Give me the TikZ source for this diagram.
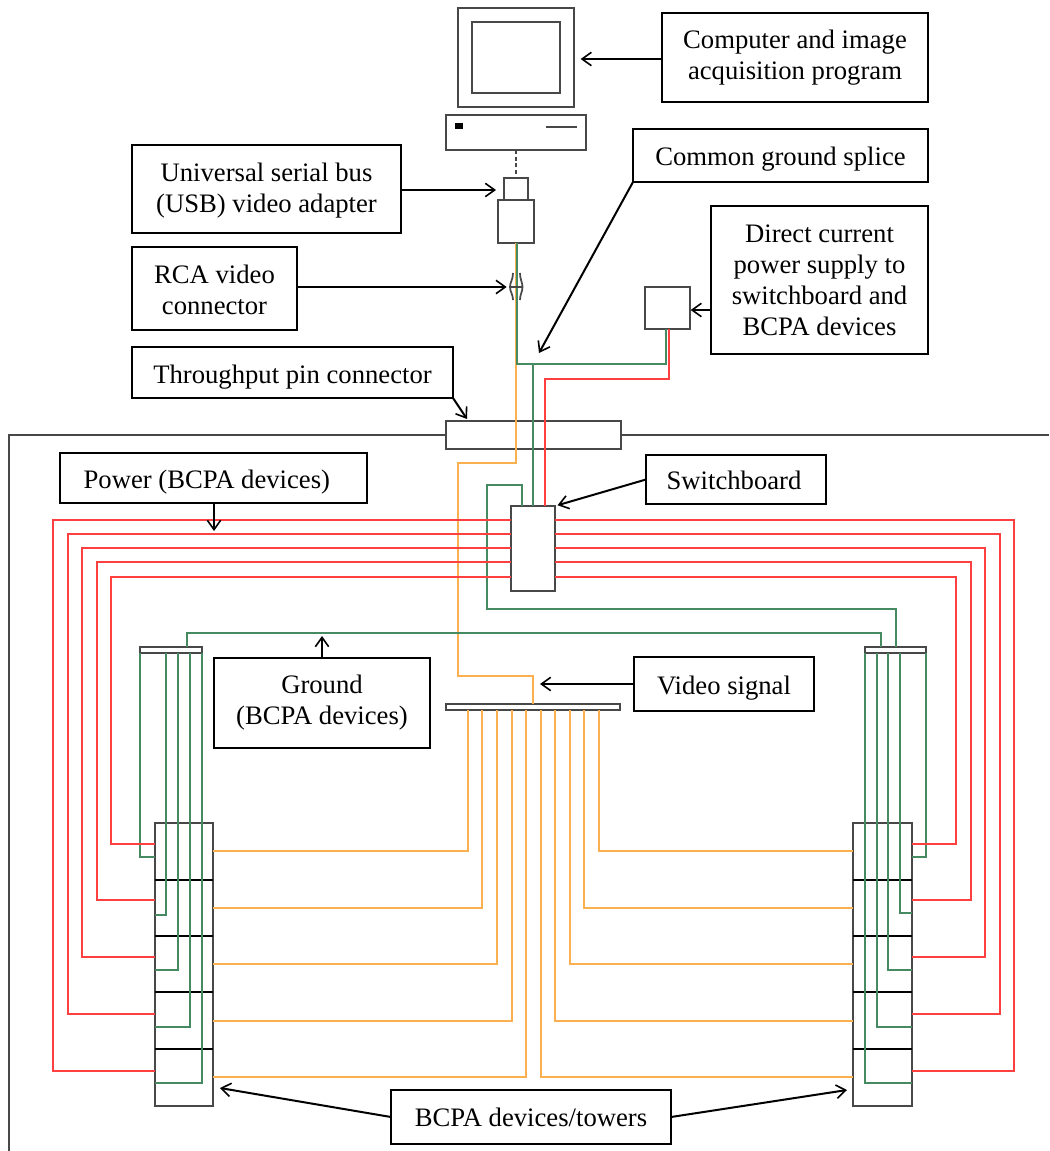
\documentclass[tikz,border=0pt]{standalone}
\usepackage{fontspec}
\setmainfont{Liberation Serif}
\usetikzlibrary{arrows.meta}
\definecolor{wred}{HTML}{FF4040}
\definecolor{wgreen}{HTML}{468A62}
\definecolor{worange}{HTML}{FBB050}
\definecolor{dev}{HTML}{484848}
\tikzset{
  base/.style={rectangle,inner sep=0pt,outer sep=0pt,align=center,font=\fontsize{20}{23.2}\selectfont},
  lab/.style={base,draw=black,line width=1.5pt},
  devbox/.style={base,draw=dev,line width=1.5pt},
  arr/.style={draw=black,line width=1.5pt,-{Straight Barb[length=7pt,width=10pt,line width=1.2pt]}},
  redw/.style={draw=wred,line width=1.5pt},
  greenw/.style={draw=wgreen,line width=1.5pt},
  orangew/.style={draw=worange,line width=1.5pt},
  frameline/.style={draw=dev,line width=1.1pt},
  divider/.style={draw=black,line width=1.5pt},
}
\newcommand{\bx}[7][lab]{\node[#1,minimum width={(#4-#2)*0.75pt},minimum height={(#5-#3)*0.75pt}] (#6) at ({(#2+#4)/2},{(#3+#5)/2}) {#7};}
\newcommand{\st}[1]{\rule{0pt}{#1pt}}
\begin{document}
\begin{tikzpicture}[x=0.75pt,y=-0.75pt]
\useasboundingbox (0,0) rectangle (1049,1151);
% devices
\bx[devbox]{458}{8}{574}{107}{mon}{}
\bx[devbox]{472}{22}{560}{93}{scr}{}
\bx[devbox]{446}{115}{586}{150}{pc}{}
\bx[base,fill=black]{455}{123}{463}{129}{pcled}{}
\bx[base,fill=dev]{546}{126}{577}{128}{pcslot}{}
\bx[devbox]{504}{178}{528}{200}{adt}{}
\bx[devbox]{498}{200}{534}{243}{ad}{}
\bx[devbox]{645}{287}{690}{329}{sup}{}
\bx[devbox]{446}{421}{621}{449}{pin}{}
\bx[devbox]{511}{506}{555}{591}{sw}{}
\bx[devbox]{446}{704}{620}{710}{split}{}
\bx[devbox]{140}{647}{202}{653}{gbl}{}
\bx[devbox]{865}{647}{926}{653}{gbr}{}
\bx[devbox]{155}{823}{213}{1106}{tl}{}
\bx[devbox]{853}{823}{912}{1106}{tr}{}
% labels
\bx{662}{13}{928}{102}{lcomp}{Computer and image\\acquisition program}
\bx{633}{129}{928}{182}{lcg}{\st{19.5}Common ground splice}
\bx{711}{206}{928}{354}{ldc}{Direct current\\power supply to\\switchboard and\\BCPA devices}
\bx{132}{145}{401}{233}{lusb}{\st{16.5}Universal serial bus\\(USB) video adapter}
\bx{132}{247}{297}{330}{lrca}{\st{16.5}RCA video\\connector}
\bx{132}{347}{453}{398}{ltp}{\st{21}Throughput pin connector}
\bx{60}{453}{367}{503}{lpw}{\st{19.5}Power (BCPA devices)\kern10pt}
\bx{646}{455}{826}{504}{lsw}{\st{15}Switchboard\kern3pt}
\bx{214}{658}{430}{748}{lgnd}{Ground\\(BCPA devices)}
\bx{634}{657}{814}{711}{lvid}{\st{19.5}Video signal}
\bx{391}{1090}{671}{1144}{lbc}{BCPA devices/towers}
% free connector ends
\coordinate (rcaj) at (516,287);
\coordinate (splice) at (517,364);
\coordinate (cgend) at (539,353);
\coordinate (tpend) at (467,419);
\coordinate (pwend) at (214,531);
\coordinate (gndend) at (322,636);
\coordinate (videnda) at (540,684);
\coordinate (bclend) at (220,1088);
\coordinate (bcrend) at (847,1090);
\coordinate (frameL) at (9,1151);
\coordinate (frameR) at (1049,435);
% frame
\draw[frameline] (pin.west) -| (frameL);
\draw[frameline] (pin.east) -- (frameR);
% tower dividers
\foreach \y in {880,936,992,1049}{
  \draw[divider] (tl.west |- 0,\y) -- (tl.east |- 0,\y);
  \draw[divider] (tr.west |- 0,\y) -- (tr.east |- 0,\y);
}
% pc link
\draw[draw=dev,line width=1pt,dash pattern=on 3pt off 2pt] (pc.south) -- (adt.north);
% orange
\draw[orangew] (ad.south) -- (516,463) -- (458,463) -- (458,676) -- (533,676) -- (533,704);
\foreach \xa/\y in {468/851,482/908,497/964,512/1021,526/1077}{
  \draw[orangew] (\xa,710) |- (tl.east |- 0,\y);
}
\foreach \xa/\y in {599/851,584/908,570/964,555/1021,541/1077}{
  \draw[orangew] (\xa,710) |- (tr.west |- 0,\y);
}
% green trunk
\draw[greenw] ([xshift=0.75pt]ad.south) |- (666,364) -- (666,329);
\draw[greenw] (sw.north |- splice) -- (sw.north);
\draw[greenw] (522,506) -- (522,485) -- (487,485) -- (487,609) -- (896,609) -- (896,647);
\draw[greenw] (187,647) -- (187,633) -- (881,633) -- (881,647);
\foreach \xa/\y in {140/857,166/915,178/970,190/1027,202/1083}{
  \draw[greenw] (\xa,653) |- (tl.west |- 0,\y);
}
\foreach \xa/\y in {926/857,900/913,888/970,877/1027,865/1083}{
  \draw[greenw] (\xa,653) |- (tr.east |- 0,\y);
}
% red
\draw[redw] (669,329) |- (545,379) -- (545,506);
\foreach \ys/\xl/\yt/\xr in {520/53/1071/1014,534/68/1014/1000,548/82/957/985,562/97/900/971,577/111/844/956}{
  \draw[redw] (sw.west |- 0,\ys) -| (\xl,\yt) -- (tl.west |- 0,\yt);
  \draw[redw] (sw.east |- 0,\ys) -| (\xr,\yt) -- (tr.east |- 0,\yt);
}
% RCA connector
\draw[draw=dev,line width=1.3pt] (513,273) .. controls (513,280) and (510,282) .. (510,287) .. controls (510,292) and (513,294) .. (513,300);
\draw[draw=dev,line width=1.3pt] (520,273) .. controls (520,280) and (522.5,282) .. (522.5,287) .. controls (522.5,292) and (520,294) .. (520,300);
\draw[draw=dev,line width=1.3pt] (510,287) -- (522.5,287);
% label arrows
\draw[arr,shorten >=5pt] (lcomp.west |- 0,59) -- (mon.east |- 0,59);
\draw[arr] (lcg.south west) -- (cgend);
\draw[arr,shorten >=0.5pt] (ldc.west |- 0,310) -- (sup.east |- 0,310);
\draw[arr,shorten >=6pt] (lusb.east |- 0,190) -- (adt.west |- 0,190);
\draw[arr,shorten >=7pt] (lrca.east |- rcaj) -- (rcaj);
\draw[arr] (ltp.south east) -- (tpend);
\draw[arr] (lpw.south -| pwend) -- (pwend);
\draw[arr,shorten >=2pt] (lsw.west) -- (sw.north east);
\draw[arr] (lgnd.north) -- (gndend);
\draw[arr] (lvid.west) -- (videnda);
\draw[arr] (lbc.west) -- (bclend);
\draw[arr] (lbc.east) -- (bcrend);
\end{tikzpicture}
\end{document}
